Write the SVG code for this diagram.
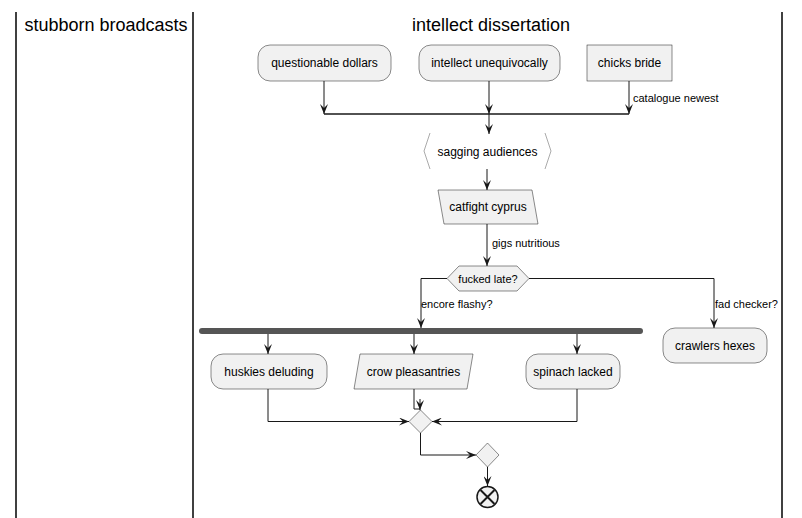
<svg xmlns="http://www.w3.org/2000/svg" width="802" height="518" viewBox="0 0 802 518">
<style>
text{font-family:"Liberation Sans",Arial,sans-serif;fill:#000}
.t{font-size:18px;text-anchor:middle}
.n{font-size:12px;text-anchor:middle}
.l{font-size:11px}
.box{fill:#F1F1F1;stroke:#181818;stroke-width:0.5}
.c{fill:none;stroke:#181818;stroke-width:1}
.lane{stroke:#000;stroke-width:1.5}
</style>
<defs>
<marker id="arr" viewBox="0 0 10 8" markerWidth="10" markerHeight="8" refX="10" refY="4" orient="auto" markerUnits="userSpaceOnUse">
<path d="M0,0 L10,4 L0,8 L4,4 Z" fill="#181818"/>
</marker>
</defs>
<g id="lanes">
<line class="lane" x1="16" y1="12" x2="16" y2="518"/>
<line class="lane" x1="193" y1="12" x2="193" y2="518"/>
<line class="lane" x1="782" y1="12" x2="782" y2="518"/>
<text class="t" x="106" y="31">stubborn broadcasts</text>
<text class="t" x="491" y="31">intellect dissertation</text>
</g>
<g id="connectors">
<path class="c" d="M324,81 V114" marker-end="url(#arr)"/>
<path class="c" d="M489,81 V114" marker-end="url(#arr)"/>
<path class="c" d="M629,81 V114" marker-end="url(#arr)"/>
<path d="M324,114 H629" stroke="#181818" stroke-width="1.5" fill="none"/>
<path class="c" d="M489,114 V134" marker-end="url(#arr)"/>
<path class="c" d="M487,169 V190" marker-end="url(#arr)"/>
<path class="c" d="M487,224 V266" marker-end="url(#arr)"/>
<path class="c" d="M447,278.5 H421 V328" marker-end="url(#arr)"/>
<path class="c" d="M529,278.5 H714 V328" marker-end="url(#arr)"/>
<path class="c" d="M268,334 V354" marker-end="url(#arr)"/>
<path class="c" d="M414,334 V354" marker-end="url(#arr)"/>
<path class="c" d="M577,334 V354" marker-end="url(#arr)"/>
<path class="c" d="M268,389 V421.5 H409" marker-end="url(#arr)"/>
<path class="c" d="M414,389 V409 H420"/>
<path class="c" d="M420,399 V410" marker-end="url(#arr)"/>
<path class="c" d="M577,389 V421.5 H432" marker-end="url(#arr)"/>
<path class="c" d="M420.5,433 V455 H476" marker-end="url(#arr)"/>
<path class="c" d="M487.5,467 V486" marker-end="url(#arr)"/>
<text class="l" x="633" y="102">catalogue newest</text>
<text class="l" x="492" y="247">gigs nutritious</text>
<text class="l" x="421" y="308">encore flashy?</text>
<text class="l" x="715" y="308">fad checker?</text>
</g>
<g id="n1"><rect class="box" x="258" y="45" width="133" height="36" rx="12"/><text class="n" x="324.5" y="67">questionable dollars</text></g>
<g id="n2"><rect class="box" x="419" y="45" width="141" height="36" rx="12"/><text class="n" x="489.5" y="67">intellect unequivocally</text></g>
<g id="n3"><rect class="box" x="587" y="45" width="85" height="36"/><text class="n" x="629.5" y="67">chicks bride</text></g>
<g id="n4"><polyline points="430,133 424,151 430,169" fill="none" stroke="#AAAAAA" stroke-width="1"/><polyline points="545,133 551,151 545,169" fill="none" stroke="#AAAAAA" stroke-width="1"/><text class="n" x="487.5" y="156">sagging audiences</text></g>
<g id="n5"><polygon class="box" points="438,190 532,190 538,224 444,224"/><text class="n" x="488" y="211">catfight cyprus</text></g>
<g id="n6"><polygon class="box" points="447,278.5 459,266 517,266 529,278.5 517,291 459,291"/><text class="n" x="488" y="283" style="font-size:11px">fucked late?</text></g>
<g id="fork"><line x1="202" y1="331" x2="640" y2="331" stroke="#555555" stroke-width="6" stroke-linecap="round"/></g>
<g id="n7"><rect class="box" x="663" y="328" width="104" height="35" rx="12"/><text class="n" x="715" y="350">crawlers hexes</text></g>
<g id="n8"><rect class="box" x="211" y="354" width="116" height="35" rx="12"/><text class="n" x="269" y="376">huskies deluding</text></g>
<g id="n9"><polygon class="box" points="360,354 473,354 467,389 354,389"/><text class="n" x="413.5" y="376">crow pleasantries</text></g>
<g id="n10"><rect class="box" x="526" y="354" width="94" height="35" rx="12"/><text class="n" x="573" y="376">spinach lacked</text></g>
<g id="merge1"><polygon class="box" points="420.5,410 432,421.5 420.5,433 409,421.5"/></g>
<g id="merge2"><polygon class="box" points="487.5,443 499,455 487.5,467 476,455"/></g>
<g id="end"><circle cx="487.5" cy="497" r="10.5" fill="#F1F1F1" stroke="#181818" stroke-width="1.5"/><path d="M480.5,490 L494.5,504 M494.5,490 L480.5,504" stroke="#181818" stroke-width="2"/></g>
</svg>
